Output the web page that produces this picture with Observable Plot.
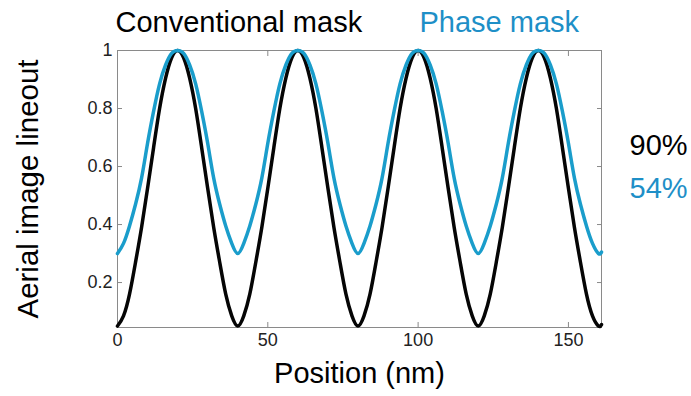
<!DOCTYPE html>
<html>
<head>
<meta charset="utf-8">
<script src="https://cdn.jsdelivr.net/npm/d3@7"></script>
<script src="https://cdn.jsdelivr.net/npm/@observablehq/plot@0.6"></script>
<style>
  html, body { margin: 0; padding: 0; background: #fff; }
  #chart svg { display: block; }
</style>
</head>
<body>
<div id="chart"></div>
<script>
// Position along the line-out (nm)
const positions = [
  0, 2, 4, 6, 8, 10, 12, 14, 16, 18, 20, 22, 24, 26, 28, 30, 32, 34, 36, 38,
  40, 42, 44, 46, 48, 50, 52, 54, 56, 58, 60, 62, 64, 66, 68, 70, 72, 74, 76, 78,
  80, 82, 84, 86, 88, 90, 92, 94, 96, 98, 100, 102, 104, 106, 108, 110, 112, 114, 116, 118,
  120, 122, 124, 126, 128, 130, 132, 134, 136, 138, 140, 142, 144, 146, 148, 150, 152, 154, 156, 158,
  160, 161
];
// Conventional mask aerial image (black)
const conventional = [
  0.05, 0.085, 0.16, 0.27, 0.39, 0.525, 0.665, 0.80, 0.905, 0.975, 1.00, 0.975, 0.905, 0.80, 0.665, 0.525, 0.39, 0.27, 0.16, 0.085,
  0.05, 0.085, 0.16, 0.27, 0.39, 0.525, 0.665, 0.80, 0.905, 0.975, 1.00, 0.975, 0.905, 0.80, 0.665, 0.525, 0.39, 0.27, 0.16, 0.085,
  0.05, 0.085, 0.16, 0.27, 0.39, 0.525, 0.665, 0.80, 0.905, 0.975, 1.00, 0.975, 0.905, 0.80, 0.665, 0.525, 0.39, 0.27, 0.16, 0.085,
  0.05, 0.085, 0.16, 0.27, 0.39, 0.525, 0.665, 0.80, 0.905, 0.975, 1.00, 0.975, 0.905, 0.80, 0.665, 0.525, 0.39, 0.27, 0.16, 0.085,
  0.05, 0.055
];
// Phase mask aerial image (blue)
const phase = [
  0.30, 0.335, 0.395, 0.47, 0.56, 0.68, 0.79, 0.885, 0.95, 0.99, 1.00, 0.99, 0.95, 0.885, 0.79, 0.68, 0.56, 0.47, 0.395, 0.335,
  0.30, 0.335, 0.395, 0.47, 0.56, 0.68, 0.79, 0.885, 0.95, 0.99, 1.00, 0.99, 0.95, 0.885, 0.79, 0.68, 0.56, 0.47, 0.395, 0.335,
  0.30, 0.335, 0.395, 0.47, 0.56, 0.68, 0.79, 0.885, 0.95, 0.99, 1.00, 0.99, 0.95, 0.885, 0.79, 0.68, 0.56, 0.47, 0.395, 0.335,
  0.30, 0.335, 0.395, 0.47, 0.56, 0.68, 0.79, 0.885, 0.95, 0.99, 1.00, 0.99, 0.95, 0.885, 0.79, 0.68, 0.56, 0.47, 0.395, 0.335,
  0.30, 0.305
];
const xTicks = [0, 50, 100, 150];
const yTicks = [0.2, 0.4, 0.6, 0.8, 1];
const titles = ["Conventional mask", "Phase mask"];
const contrasts = ["90%", "54%"];
const xLabel = "Position (nm)";
const yLabel = "Aerial image lineout";

const convData = positions.map((p, i) => ({x: p, y: conventional[i]}));
const phaseData = positions.map((p, i) => ({x: p, y: phase[i]}));

const BLUE = "#1a9dcb";
const BLUE_TEXT = "#1e8fc7";
const FONT = "'Liberation Sans', Arial, sans-serif";

const chart = Plot.plot({
  width: 691,
  height: 396,
  marginLeft: 117,
  marginRight: 90,
  marginTop: 50,
  marginBottom: 69,
  style: {fontFamily: FONT, background: "#fff", color: "#222"},
  x: {domain: [0, 161], label: null},
  y: {domain: [0.045, 1], label: null},
  marks: [
    Plot.frame({stroke: "#8a8a8a", strokeWidth: 1}),
    Plot.axisY(yTicks, {anchor: "left", tickSize: -5, tickPadding: 10, tickFormat: d => String(d), fontSize: 18, stroke: "#8a8a8a", fill: "#222", label: null}),
    Plot.axisY(yTicks, {anchor: "right", tickSize: -5, tickFormat: () => "", stroke: "#8a8a8a", label: null}),
    Plot.axisX(xTicks, {anchor: "bottom", tickSize: -5, tickPadding: 11, tickFormat: d => String(d), fontSize: 18, stroke: "#8a8a8a", fill: "#222", label: null}),
    Plot.axisX(xTicks, {anchor: "top", tickSize: -5, tickFormat: () => "", stroke: "#8a8a8a", label: null}),
    Plot.line(convData, {x: "x", y: "y", stroke: "#050505", strokeWidth: 3.5, curve: "natural"}),
    Plot.line(phaseData, {x: "x", y: "y", stroke: BLUE, strokeWidth: 3.5, curve: "natural"}),
    Plot.text([titles[0]], {frameAnchor: "top-left", textAnchor: "start", lineAnchor: "middle", dx: -2, dy: -28, fontSize: 29, fill: "#000"}),
    Plot.text([titles[1]], {frameAnchor: "top-left", textAnchor: "start", lineAnchor: "middle", dx: 302, dy: -28, fontSize: 29, fill: BLUE_TEXT}),
    Plot.text([contrasts[0]], {frameAnchor: "right", textAnchor: "start", lineAnchor: "middle", dx: 28, dy: -43, fontSize: 29, fill: "#000"}),
    Plot.text([contrasts[1]], {frameAnchor: "right", textAnchor: "start", lineAnchor: "middle", dx: 28, dy: 0, fontSize: 29, fill: BLUE_TEXT}),
    Plot.text([xLabel], {frameAnchor: "bottom", textAnchor: "middle", lineAnchor: "middle", dy: 46, fontSize: 29, fill: "#000"}),
    Plot.text([yLabel], {frameAnchor: "left", textAnchor: "middle", lineAnchor: "middle", rotate: -90, dx: -89, fontSize: 29.5, fill: "#000"})
  ]
});
document.getElementById("chart").appendChild(chart);
</script>
</body>
</html>
